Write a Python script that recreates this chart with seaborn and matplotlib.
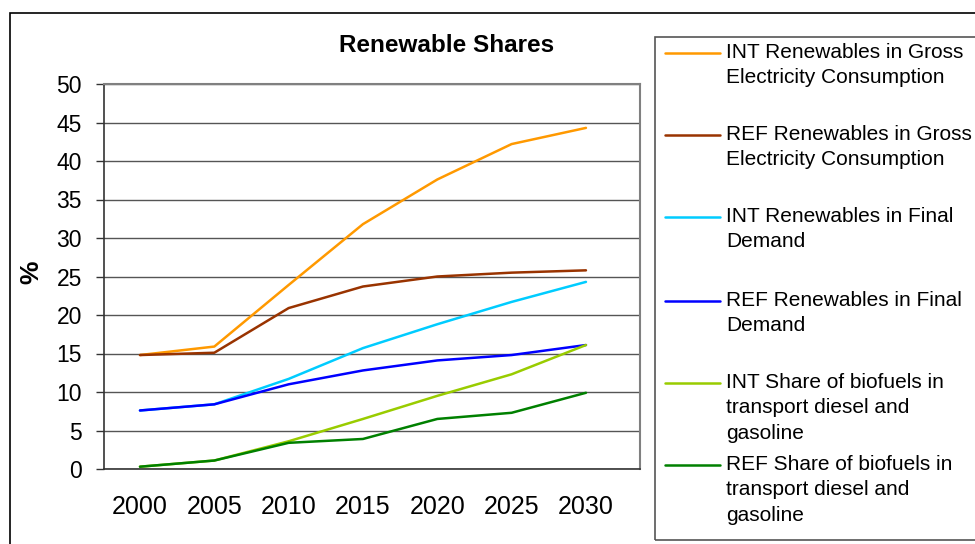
import pandas as pd
import matplotlib.pyplot as plt
from matplotlib.patches import Rectangle
from matplotlib.lines import Line2D
import seaborn as sns

# data (%)
years = ['2000', '2005', '2010', '2015', '2020', '2025', '2030']
int_res_e = [14.8, 15.9, 23.9, 31.8, 37.6, 42.2, 44.3]
ref_res_e = [14.8, 15.1, 20.9, 23.7, 25.0, 25.5, 25.8]
int_res = [7.6, 8.4, 11.7, 15.7, 18.8, 21.7, 24.3]
ref_res = [7.6, 8.4, 11.0, 12.8, 14.1, 14.8, 16.1]
int_bio = [0.3, 1.1, 3.6, 6.5, 9.5, 12.3, 16.1]
ref_bio = [0.3, 1.1, 3.4, 3.9, 6.5, 7.3, 9.9]

labels = [
    'INT Renewables in Gross\nElectricity Consumption',
    'REF Renewables in Gross\nElectricity Consumption',
    'INT Renewables in Final\nDemand',
    'REF Renewables in Final\nDemand',
    'INT Share of biofuels in\ntransport diesel and\ngasoline',
    'REF Share of biofuels in\ntransport diesel and\ngasoline',
]
colors = ['#FF9900', '#993300', '#00CCFF', '#0000FF', '#99CC00', '#008000']
series = [int_res_e, ref_res_e, int_res, ref_res, int_bio, ref_bio]

rows = []
for lab, vals in zip(labels, series):
    for i, v in enumerate(vals):
        rows.append({'pos': i, 'value': v, 'series': lab})
df = pd.DataFrame(rows)

sns.set_style("white")
plt.rcParams['font.family'] = ['Liberation Sans', 'DejaVu Sans']
plt.rcParams['text.color'] = 'black'
plt.rcParams['xtick.color'] = 'black'
plt.rcParams['ytick.color'] = 'black'

fig = plt.figure(figsize=(9.75, 5.44), dpi=100)
W, H = 975, 544
ax = fig.add_axes([104 / W, 1 - 469 / H, (640 - 104) / W, (469 - 84) / H])

sns.lineplot(data=df, x='pos', y='value', hue='series', palette=dict(zip(labels, colors)),
             linewidth=1.8, ax=ax, legend=False)

ax.set_xlim(-0.484, 6.727)
ax.set_ylim(0, 50)
ax.set_yticks(range(0, 51, 5))
ax.yaxis.grid(True, color='#555555', linewidth=1)
ax.set_axisbelow(True)

ax.set_xticks(range(len(years)))
ax.set_xticklabels(years, fontsize=18)
ax.set_xticks([i + 0.5 for i in range(len(years))], minor=True)
ax.tick_params(axis='x', which='major', length=0, pad=19)
ax.tick_params(axis='x', which='minor', length=6, width=1, color='#333333', direction='out')
ax.tick_params(axis='y', labelsize=16.5, length=6, width=1, color='#333333', direction='out', pad=10, left=True)
ax.set_xlabel('')
ax.set_ylabel('')

for side in ['left', 'bottom']:
    ax.spines[side].set_color('#333333')
    ax.spines[side].set_linewidth(1.2)
for side in ['top', 'right']:
    ax.spines[side].set_color('#808080')
    ax.spines[side].set_linewidth(1.5)

fig.text(447 / W, 1 - 46 / H, 'Renewable Shares', fontsize=17.5, fontweight='bold', ha='center', va='center')
fig.text(31 / W, 1 - 272 / H, '%', fontsize=19, fontweight='bold', rotation=90, ha='center', va='center')

# outer chart border
fig.patches.append(Rectangle((10 / W, -0.05), 1.0, 1 - 13 / H + 0.05, transform=fig.transFigure,
                             fill=False, edgecolor='black', linewidth=1.2))
# legend box
fig.patches.append(Rectangle((655 / W, 1 - 540 / H), 0.5, (540 - 37) / H, transform=fig.transFigure,
                             fill=False, edgecolor='#555555', linewidth=1.2))

entry_y = [53, 135, 217, 301, 383, 465]
for lab, col, yy in zip(labels, colors, entry_y):
    fig.lines.append(Line2D([665 / W, 720 / W], [1 - yy / H, 1 - yy / H], transform=fig.transFigure,
                            color=col, linewidth=1.8))
    fig.text(726 / W, 1 - (yy - 10) / H, lab, fontsize=15, ha='left', va='top', linespacing=1.42)

plt.savefig('out.png', dpi=100)
